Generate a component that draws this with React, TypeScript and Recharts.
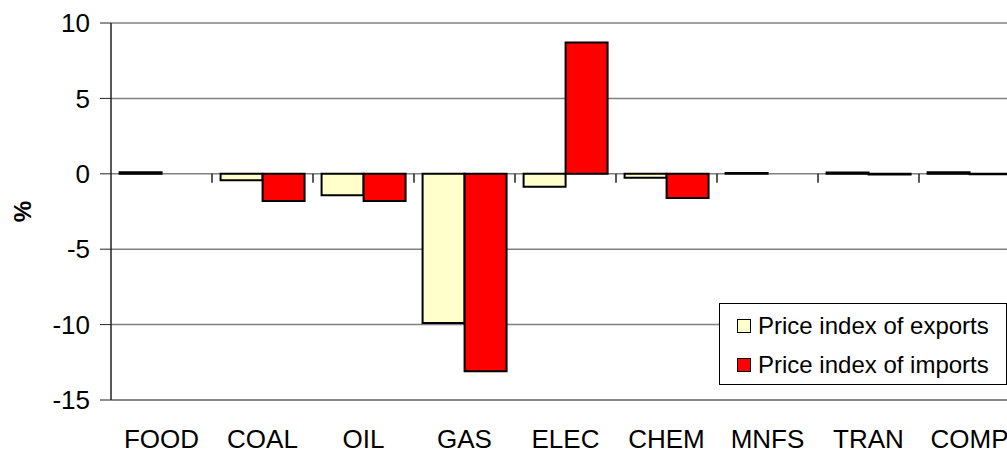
import React from "react";
import {
  Bar,
  BarChart,
  CartesianGrid,
  Legend,
  ReferenceLine,
  XAxis,
  YAxis,
} from "recharts";

const categories = ["FOOD", "COAL", "OIL", "GAS", "ELEC", "CHEM", "MNFS", "TRAN", "COMP"];
const exportPrices = [0.1, -0.42, -1.42, -9.9, -0.86, -0.26, 0.06, 0.08, 0.1];
const importPrices = [0, -1.8, -1.8, -13.1, 8.7, -1.6, 0, -0.05, -0.03];
const yTicks = [10, 5, 0, -5, -10, -15];
const seriesNames = ["Price index of exports", "Price index of imports"];

const data = categories.map((name, i) => ({
  name,
  exp: exportPrices[i],
  imp: importPrices[i],
}));

// tick marks on the zero line at the start of every category after the first
const boundaryCats = categories.slice(1);

const FONT = "'Liberation Sans', Arial, sans-serif";

function LegendBox({ payload }: any) {
  return (
    <div
      style={{
        width: "100%",
        height: "100%",
        boxSizing: "border-box",
        border: "1px solid #000",
        background: "#fff",
        paddingTop: 7,
        paddingLeft: 17,
        fontFamily: FONT,
        fontSize: 24,
        color: "#000",
      }}
    >
      {(payload || []).map((p: any) => (
        <div
          key={p.value}
          style={{ height: 30, lineHeight: "30px", marginBottom: 9, display: "flex", alignItems: "center" }}
        >
          <span
            style={{
              display: "inline-block",
              width: 12,
              height: 12,
              border: "1.5px solid #000",
              background: p.color,
              marginRight: 7,
            }}
          />
          <span>{p.value}</span>
        </div>
      ))}
    </div>
  );
}

export default function App() {
  return (
    <div
      style={{
        position: "fixed",
        left: 0,
        top: 0,
        width: 1007,
        height: 450,
        overflow: "hidden",
        background: "#fff",
      }}
    >
      <BarChart
        width={1030}
        height={450}
        data={data}
        margin={{ top: 23, right: 10, bottom: 0, left: 0 }}
        barCategoryGap="8.5%"
        barGap={0}
      >
        <CartesianGrid vertical={false} stroke="#808080" strokeWidth={1.5} />
        <XAxis
          dataKey="name"
          interval={0}
          tickLine={false}
          tickSize={0}
          tickMargin={30}
          height={50}
          axisLine={{ stroke: "#808080", strokeWidth: 1.5 }}
          tick={{ fontSize: 26, fill: "#000", fontFamily: FONT }}
        />
        <YAxis
          domain={[-15, 10]}
          ticks={yTicks}
          interval={0}
          width={111}
          tickSize={11}
          tickMargin={10}
          axisLine={{ stroke: "#222", strokeWidth: 1.5 }}
          tickLine={{ stroke: "#222", strokeWidth: 1 }}
          tick={{ fontSize: 26, fill: "#000", fontFamily: FONT }}
          label={{
            value: "%",
            angle: -90,
            position: "center",
            dx: -33,
            fontSize: 24,
            fontWeight: "bold",
            fill: "#000",
            fontFamily: FONT,
          }}
        />
        {boundaryCats.map((c) => (
          <ReferenceLine
            key={c}
            position="start"
            segment={[
              { x: c, y: 0 },
              { x: c, y: -0.6 },
            ]}
            stroke="#222"
            strokeWidth={1.5}
          />
        ))}
        <Bar
          dataKey="exp"
          name={seriesNames[0]}
          fill="#FFFFCC"
          stroke="#000"
          strokeWidth={2}
          isAnimationActive={false}
        />
        <Bar
          dataKey="imp"
          name={seriesNames[1]}
          fill="#FF0000"
          stroke="#000"
          strokeWidth={2}
          isAnimationActive={false}
        />
        <Legend
          layout="horizontal"
          verticalAlign="middle"
          align="center"
          wrapperStyle={{ left: 719, top: 303, width: 288, height: 82 }}
          content={<LegendBox />}
        />
      </BarChart>
    </div>
  );
}
